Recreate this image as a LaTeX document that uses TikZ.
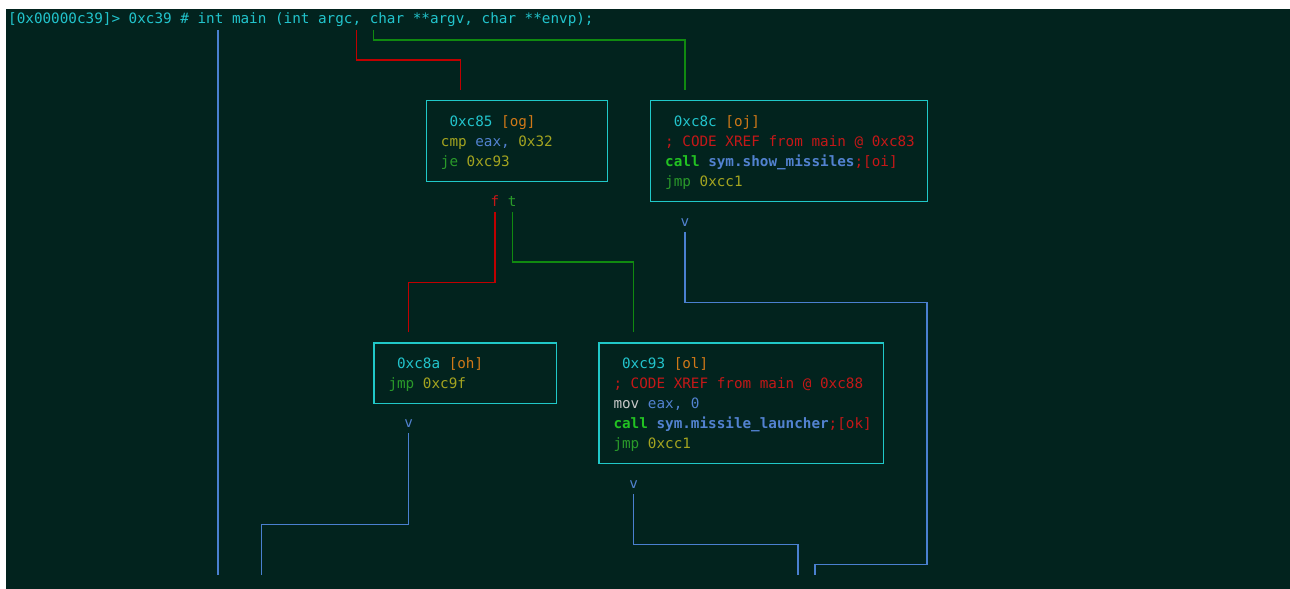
\documentclass[tikz,border=0pt]{standalone}
\usepackage{fontspec}
\setmonofont{DejaVu Sans Mono}
\definecolor{bg}{HTML}{02231E}
\definecolor{tcyan}{HTML}{22C4CC}
\definecolor{bcyan}{HTML}{20C8C8}
\definecolor{tblue}{HTML}{5282D0}
\definecolor{lblue}{HTML}{4A80D0}
\definecolor{tred}{HTML}{C41818}
\definecolor{lred}{HTML}{C00000}
\definecolor{tgreen}{HTML}{2A9A2A}
\definecolor{bgreen}{HTML}{22C222}
\definecolor{lgreen}{HTML}{108A10}
\definecolor{tolive}{HTML}{A4A420}
\definecolor{torange}{HTML}{D07818}
\definecolor{tgray}{HTML}{C8C8C8}
\newcommand\mono{\ttfamily\fontsize{14.3bp}{20bp}\selectfont}
\newcommand\rs{\rule[-4.5bp]{0pt}{20bp}}
\newcommand\fixsp{\spaceskip=0pt\xspaceskip=0pt\relax}
\newcommand\rcy[1]{\textcolor{tcyan}{#1}}
\newcommand\ror[1]{\textcolor{torange}{#1}}
\newcommand\rol[1]{\textcolor{tolive}{#1}}
\newcommand\rbl[1]{\textcolor{tblue}{#1}}
\newcommand\rbb[1]{\textcolor{tblue}{\bfseries #1}}
\newcommand\rre[1]{\textcolor{tred}{#1}}
\newcommand\rgr[1]{\textcolor{tgreen}{#1}}
\newcommand\rgb[1]{\textcolor{bgreen}{\bfseries #1}}
\newcommand\rwh[1]{\textcolor{tgray}{#1}}
\tikzset{
  codebox/.style={draw=bcyan, line width=1.4bp, anchor=north west,
    inner xsep=14.5bp, inner ysep=0pt, align=left, font=\mono},
  lbl/.style={inner sep=0pt, font=\mono},
  redline/.style={draw=lred, line width=1.3bp},
  greenline/.style={draw=lgreen, line width=1.3bp},
  blueline/.style={draw=lblue, line width=1.2bp}
}
\begin{document}
\begin{tikzpicture}[x=1bp,y=-1bp]
\useasboundingbox (0,0) rectangle (1290,589);
\fill[white] (0,0) rectangle (1290,589);
\fill[bg] (6,9) rectangle (1290,589);

\node[lbl, anchor=base west, text=tcyan] (title) at (8,24)
  {[0x00000c39]> 0xc39 \# int main (int argc, char **argv, char **envp);};

% boxes
\node[codebox, minimum width=181.3bp, minimum height=81bp, text width=152.3bp] (og) at (425.7,100)
  {\fixsp\mbox{\hphantom{0}\rcy{0xc85} \ror{[og]}}\rs\\
   \mbox{\rol{cmp} \rbl{eax,} \rol{0x32}}\rs\\
   \mbox{\rgr{je} \rol{0xc93}}\rs};

\node[codebox, minimum width=277bp, minimum height=101bp, text width=248bp] (oj) at (650,100)
  {\fixsp\mbox{\hphantom{0}\rcy{0xc8c} \ror{[oj]}}\rs\\
   \mbox{\rre{; CODE XREF from main @ 0xc83}}\rs\\
   \mbox{\rgb{call} \rbb{sym.show\_missiles}\rre{;[oi]}}\rs\\
   \mbox{\rgr{jmp} \rol{0xcc1}}\rs};

\node[codebox, minimum width=182.4bp, minimum height=60.7bp, text width=153.4bp] (oh) at (373.3,342.3)
  {\fixsp\mbox{\hphantom{0}\rcy{0xc8a} \ror{[oh]}}\rs\\
   \mbox{\rgr{jmp} \rol{0xc9f}}\rs};

\node[codebox, minimum width=284.7bp, minimum height=120.7bp, text width=255.7bp] (ol) at (598.3,342.3)
  {\fixsp\mbox{\hphantom{0}\rcy{0xc93} \ror{[ol]}}\rs\\
   \mbox{\rre{; CODE XREF from main @ 0xc88}}\rs\\
   \mbox{\rwh{mov} \rbl{eax, 0}}\rs\\
   \mbox{\rgb{call} \rbb{sym.missile\_launcher}\rre{;[ok]}}\rs\\
   \mbox{\rgr{jmp} \rol{0xcc1}}\rs};

% labels
\node[lbl, text=tred] (f) at (495,201) {f};
\node[lbl, text=tgreen] (t) at (512.3,201) {t};
\node[lbl, text=tblue] (v1) at (685,222.5) {v};
\node[lbl, text=tblue] (v2) at (408.7,424) {v};
\node[lbl, text=tblue] (v3) at (633.6,485) {v};

% connector end points
\coordinate (b0) at (218,30);
\coordinate (b1) at (218,574.7);
\coordinate (r0) at (356.3,30);
\coordinate (r1) at (460.3,90);
\coordinate (g0) at (373.7,30);
\coordinate (g1) at (685,90);
\coordinate (f0) at (495,212);
\coordinate (f1) at (408.3,332);
\coordinate (t0) at (512.3,212);
\coordinate (t1) at (633.3,332);
\coordinate (j0) at (685,232);
\coordinate (j1) at (815,574.7);
\coordinate (h0) at (408.7,433);
\coordinate (h1) at (261.8,574.7);
\coordinate (l0) at (633.6,494);
\coordinate (l1) at (797.9,574.7);

% connectors
\draw[blueline] (b0) -- (b1);
\draw[redline] (r0) -- (356.3,60) -| (r1);
\draw[greenline] (g0) -- (373.7,40) -| (g1);
\draw[redline] (f0) -- (495,282.3) -| (f1);
\draw[greenline] (t0) -- (512.3,262) -| (t1);
\draw[blueline] (j0) -- (685,302.3) -- (927,302.3) -- (927,564.3) -| (j1);
\draw[blueline] (h0) -- (408.7,524.3) -| (h1);
\draw[blueline] (l0) -- (633.6,544.3) -| (l1);
\end{tikzpicture}
\end{document}
